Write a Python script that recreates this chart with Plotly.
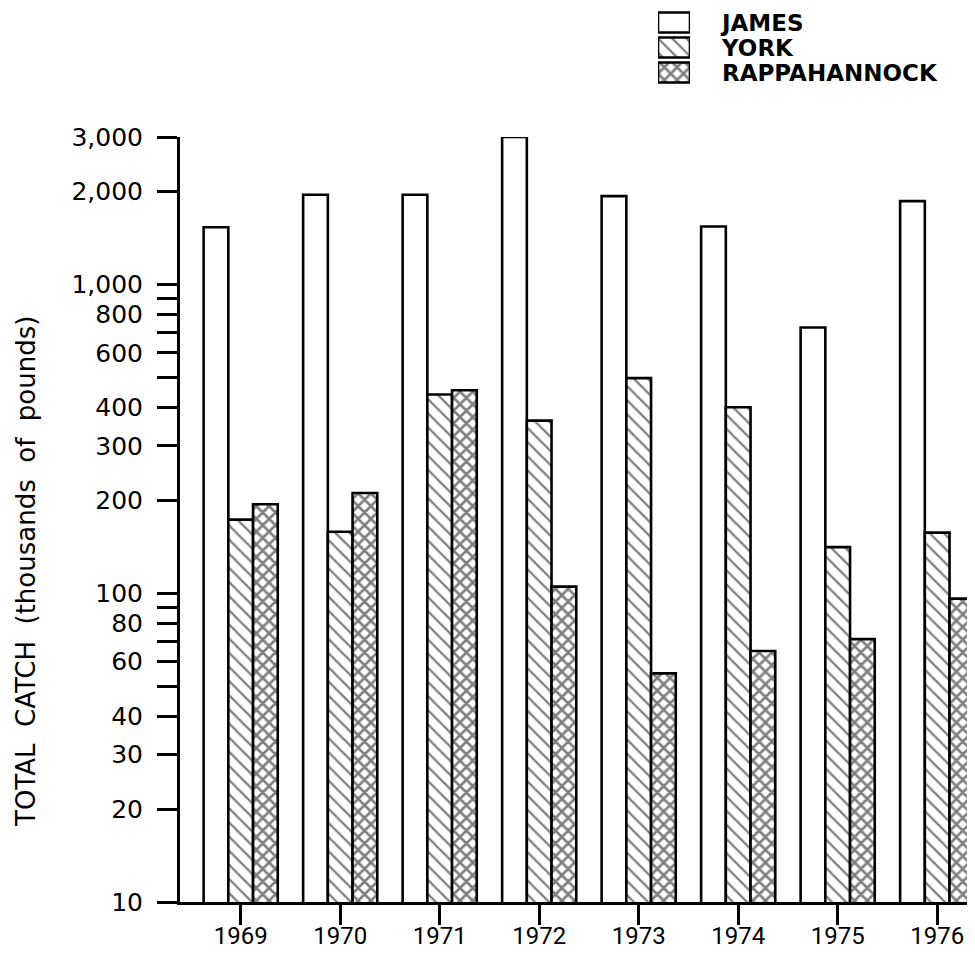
import math
import plotly.graph_objects as go

# ---------------- data ----------------
years = ["1969", "1970", "1971", "1972", "1973", "1974", "1975", "1976"]
james = [1530, 1950, 1950, 3000, 1930, 1540, 725, 1860]
york = [173, 158, 440, 362, 497, 400, 141, 157]
rappahannock = [194, 211, 454, 105, 55, 65, 71, 96]

series_names = ["JAMES", "YORK", "RAPPAHANNOCK"]
ytick_vals = [10, 20, 30, 40, 60, 80, 100, 200, 300, 400, 600, 800, 1000, 2000, 3000]
ytick_text = ["10", "20", "30", "40", "60", "80", "100", "200", "300", "400",
              "600", "800", "1,000", "2,000", "3,000"]
yminor_vals = [50, 70, 90, 500, 700, 900]
ytitle = "TOTAL  CATCH  (thousands  of  pounds)"

# ---------------- figure ----------------
# the page body adds an 8px margin; size the figure so the page does not scroll
OFF = 8
W, H = 975 - OFF, 958 - 2 * OFF
ML = 180 - OFF
MR = 0
MT = 0
MB = H - (902 - OFF)
plot_h = H - MT - MB
plot_w = W - ML - MR


def ypix(screen_y):
    """screen pixel row -> paper fraction"""
    return (H - MB - (screen_y - OFF)) / plot_h


def xpix(screen_x):
    return (screen_x - OFF - ML) / plot_w


ydom_top = ypix(137)

line_w = 2.6
patterns = ["", "\\", "x"]
series_vals = [james, york, rappahannock]
pat_size = {"": 10, "\\": 10, "x": 9}
pat_sol = {"": 0.3, "\\": 0.22, "x": 0.5}

fig = go.Figure()
for name, vals, pat in zip(series_names, series_vals, patterns):
    fig.add_trace(go.Bar(
        x=years, y=vals, name=name,
        marker=dict(color="white",
                    line=dict(color="black", width=line_w),
                    pattern=dict(shape=pat, fgcolor="black", bgcolor="white",
                                 size=pat_size[pat], solidity=pat_sol[pat])),
        showlegend=False,
        xaxis="x", yaxis="y",
    ))

# legend built as a tiny bar chart on its own axes
fig.add_trace(go.Bar(
    y=series_names, x=[1, 1, 1], orientation="h",
    width=[0.8, 0.8, 0.8],
    marker=dict(color="white",
                line=dict(color="black", width=line_w),
                pattern=dict(shape=patterns, fgcolor="black", bgcolor="white",
                             size=[pat_size[p] for p in patterns],
                             solidity=[pat_sol[p] for p in patterns])),
    showlegend=False, hoverinfo="skip",
    xaxis="x2", yaxis="y2",
))

fig.update_layout(
    width=W, height=H,
    margin=dict(l=ML, r=MR, t=MT, b=MB, autoexpand=False),
    paper_bgcolor="white", plot_bgcolor="white",
    barmode="group", bargap=0.255, bargroupgap=0,
    font=dict(family="DejaVu Sans", color="black"),
    xaxis=dict(
        type="category", range=[-0.61, 7.38],
        showline=True, linecolor="black", linewidth=3,
        ticks="outside", ticklen=20, tickwidth=2.5, tickcolor="black",
        tickfont=dict(family="Roboto", size=24, color="black"),
        ticklabelstandoff=-10,
        showgrid=False, zeroline=False, automargin=False,
        anchor="y",
    ),
    yaxis=dict(
        type="log", range=[1, math.log10(3000)],
        domain=[0, ydom_top],
        tickmode="array", tickvals=ytick_vals, ticktext=ytick_text,
        showline=True, linecolor="black", linewidth=3,
        ticks="outside", ticklen=20, tickwidth=2.5, tickcolor="black",
        tickfont=dict(family="DejaVu Sans", size=25, color="black"),
        ticklabelstandoff=9,
        minor=dict(tickmode="array", tickvals=yminor_vals, ticks="outside",
                   ticklen=20, tickwidth=2.5, tickcolor="black", showgrid=False),
        showgrid=False, zeroline=False, automargin=False,
        anchor="x",
    ),
    xaxis2=dict(domain=[xpix(658), xpix(690)], range=[0, 1], visible=False,
                anchor="y2", fixedrange=True, automargin=False),
    yaxis2=dict(domain=[ypix(85), ypix(10)], type="category",
                categoryorder="array", categoryarray=series_names,
                tickmode="array", tickvals=series_names, ticktext=series_names,
                autorange="reversed", side="right", anchor="x2",
                showline=False, ticks="", showgrid=False, zeroline=False,
                tickfont=dict(family="DejaVu Sans", size=23, color="black",
                              weight="bold"),
                ticklabelstandoff=31, fixedrange=True, automargin=False),
    annotations=[dict(
        text=ytitle, textangle=-90,
        xref="paper", yref="paper",
        x=xpix(26), y=ypix(572),
        xanchor="center", yanchor="middle", showarrow=False,
        font=dict(family="DejaVu Sans", size=26, color="black"),
    )],
)

fig.write_html("out.html")
